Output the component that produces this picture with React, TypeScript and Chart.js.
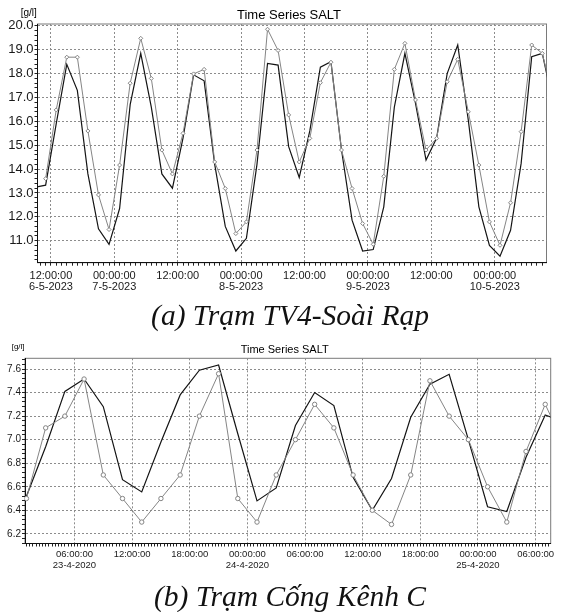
import React, { useEffect, useRef } from "react";
import { Chart, registerables } from "chart.js";
Chart.register(...registerables);

// ---------- Chart (a): Trạm TV4-Soài Rạp (hours since 00:00 6-5-2023) ----------
const A_HOURS = [9, 11, 13, 15, 17, 19, 21, 23, 25, 27, 29, 31, 33, 35, 37, 39, 41, 43, 45, 47, 49, 51, 53, 55, 57, 59, 61, 63, 65, 67, 69, 71, 73, 75, 77, 79, 81, 83, 85, 87, 89, 91, 93, 95, 97, 99, 101, 103, 105, 107];
const A_BLACK = [13.24, 13.33, 15.9, 18.39, 17.3, 13.8, 11.5, 10.85, 12.35, 16.7, 18.85, 16.6, 13.8, 13.2, 15.3, 17.95, 17.7, 14.2, 11.6, 10.57, 11.1, 14.2, 18.43, 18.36, 14.94, 13.65, 15.6, 18.27, 18.5, 14.8, 11.86, 10.57, 10.63, 12.42, 16.6, 18.85, 16.76, 14.38, 15.3, 18.0, 19.2, 16.05, 12.42, 10.8, 10.35, 11.44, 14.24, 18.71, 18.85, 16.8];
const A_GREY = [null, 13.6, 16.48, 18.69, 18.69, 15.6, 12.92, 11.47, 14.17, 17.6, 19.48, 17.8, 14.8, 13.8, 15.5, 17.99, 18.18, 14.3, 13.19, 11.3, 11.79, 14.8, 19.86, 18.97, 16.27, 14.3, 15.29, 17.62, 18.48, 14.8, 13.19, 11.72, 10.85, 13.7, 18.18, 19.27, 16.9, 14.8, 15.29, 17.66, 18.6, 16.4, 14.17, 11.79, 10.81, 12.59, 15.57, 19.2, 18.85, 17.0];
const A_TICK_HOURS = [12, 24, 36, 48, 60, 72, 84, 96];
const A_TICK_LABELS = [
  ["12:00:00", "6-5-2023"],
  ["00:00:00", "7-5-2023"],
  ["12:00:00"],
  ["00:00:00", "8-5-2023"],
  ["12:00:00"],
  ["00:00:00", "9-5-2023"],
  ["12:00:00"],
  ["00:00:00", "10-5-2023"],
];

// ---------- Chart (b): Trạm Cống Kênh C (hours since 00:00 23-4-2020) ----------
const B_HOURS = [1, 3, 5, 7, 9, 11, 13, 15, 17, 19, 21, 23, 25, 27, 29, 31, 33, 35, 37, 39, 41, 43, 45, 47, 49, 51, 53, 55, 57];
const B_BLACK = [6.52, 6.94, 7.41, 7.515, 7.28, 6.66, 6.556, 6.98, 7.38, 7.59, 7.634, 7.05, 6.48, 6.59, 7.12, 7.4, 7.29, 6.68, 6.4, 6.67, 7.19, 7.47, 7.555, 7.0, 6.43, 6.39, 6.85, 7.21, 7.15];
const B_GREY = [6.5, 7.1, 7.2, 7.515, 6.7, 6.5, 6.3, 6.5, 6.7, 7.2, 7.56, 6.5, 6.3, 6.7, 7.0, 7.3, 7.1, 6.7, 6.4, 6.28, 6.7, 7.5, 7.2, 7.0, 6.6, 6.3, 6.9, 7.3, 6.95];
const B_TICK_HOURS = [6, 12, 18, 24, 30, 36, 42, 48, 54];
const B_TICK_LABELS = [
  ["06:00:00", "23-4-2020"],
  ["12:00:00"],
  ["18:00:00"],
  ["00:00:00", "24-4-2020"],
  ["06:00:00"],
  ["12:00:00"],
  ["18:00:00"],
  ["00:00:00", "25-4-2020"],
  ["06:00:00"],
];

const FONT = "'Liberation Sans', Arial, sans-serif";

function stepTicks(min: number, max: number, step: number) {
  const out: { value: number }[] = [];
  const s = Math.ceil(min / step - 1e-9);
  const e = Math.floor(max / step + 1e-9);
  for (let i = s; i <= e; i++) out.push({ value: +(i * step).toFixed(6) });
  return out;
}
const isMult = (v: number, step: number) => Math.abs(v / step - Math.round(v / step)) < 1e-6;

const boxPlugin = {
  id: "plotBox",
  beforeDraw(chart: any) {
    const { ctx, chartArea: a } = chart;
    ctx.save();
    ctx.fillStyle = "#ffffff";
    ctx.fillRect(0, 0, chart.width, chart.height);
    ctx.strokeStyle = "#7a7a7a";
    ctx.lineWidth = 1;
    ctx.strokeRect(a.left, a.top, a.right - a.left, a.bottom - a.top);
    ctx.restore();
  },
};

type Cfg = {
  hours: number[];
  black: (number | null)[];
  grey: (number | null)[];
  xMin: number; xMax: number; xMinor: number;
  tickHours: number[]; tickLabels: string[][];
  yMin: number; yMax: number; yMajor: number; yMinor: number;
  pad: { left: number; right: number; top: number; bottom: number };
  yWidth: number; xHeight: number;
  yFont: number; xFont: number; xLine: number; xPad: number;
  pointStyle: string; pointRadius: number;
};

function makeConfig(c: Cfg): any {
  return {
    type: "line",
    data: {
      datasets: [
        {
          label: "grey",
          data: c.hours.map((h, i) => ({ x: h, y: c.grey[i] })),
          borderColor: "#858585",
          borderWidth: 1,
          pointStyle: c.pointStyle,
          pointRadius: c.pointRadius,
          pointBorderColor: "#858585",
          pointBackgroundColor: "#ffffff",
          pointBorderWidth: 1,
          tension: 0,
          spanGaps: false,
        },
        {
          label: "black",
          data: c.hours.map((h, i) => ({ x: h, y: c.black[i] })),
          borderColor: "#141414",
          borderWidth: 1.2,
          pointRadius: 0,
          tension: 0,
        },
      ],
    },
    options: {
      responsive: false,
      animation: false,
      events: [],
      layout: { padding: c.pad },
      plugins: { legend: { display: false }, title: { display: false }, tooltip: { enabled: false } },
      scales: {
        x: {
          type: "linear",
          min: c.xMin,
          max: c.xMax,
          afterBuildTicks: (s: any) => { s.ticks = stepTicks(c.xMin, c.xMax, c.xMinor); },
          afterFit: (s: any) => { s.height = c.xHeight; },
          ticks: {
            autoSkip: false,
            maxRotation: 0,
            minRotation: 0,
            padding: c.xPad,
            color: "#1a1a1a",
            font: { family: FONT, size: c.xFont, lineHeight: c.xLine },
            callback: (v: number) => {
              const idx = c.tickHours.findIndex((h) => Math.abs(h - v) < 1e-6);
              return idx >= 0 ? c.tickLabels[idx] : "";
            },
          },
          grid: {
            color: (ctx: any) => {
              const v = ctx.tick ? ctx.tick.value : NaN;
              return c.tickHours.some((h) => Math.abs(h - v) < 1e-6) ? "#8c8c8c" : "rgba(0,0,0,0)";
            },
            lineWidth: 1,
            tickColor: "#222",
            tickLength: 3,
          },
          border: { display: true, color: "#111", width: 1, dash: [2, 2] },
        },
        y: {
          type: "linear",
          min: c.yMin,
          max: c.yMax,
          afterBuildTicks: (s: any) => { s.ticks = stepTicks(c.yMin, c.yMax, c.yMinor); },
          afterFit: (s: any) => { s.width = c.yWidth; },
          ticks: {
            autoSkip: false,
            padding: 1,
            color: "#1a1a1a",
            font: { family: FONT, size: c.yFont },
            callback: (v: number) => (isMult(v, c.yMajor) ? v.toFixed(1) : ""),
          },
          grid: {
            color: (ctx: any) => {
              const v = ctx.tick ? ctx.tick.value : NaN;
              return isMult(v, c.yMajor) ? "#8c8c8c" : "rgba(0,0,0,0)";
            },
            lineWidth: 1,
            tickColor: "#222",
            tickLength: 3,
          },
          border: { display: true, color: "#111", width: 1, dash: [2, 2] },
        },
      },
    },
    plugins: [boxPlugin],
  };
}

const CFG_A: Cfg = {
  hours: A_HOURS, black: A_BLACK, grey: A_GREY,
  xMin: 9.46, xMax: 105.8, xMinor: 1,
  tickHours: A_TICK_HOURS, tickLabels: A_TICK_LABELS,
  yMin: 10.08, yMax: 20.08, yMajor: 1, yMinor: 0.2,
  pad: { left: 0, right: 20.5, top: 24, bottom: 0 },
  yWidth: 37.5, xHeight: 37.3,
  yFont: 13, xFont: 11, xLine: 1.0, xPad: 5,
  pointStyle: "rectRot", pointRadius: 2,
};

const CFG_B: Cfg = {
  hours: B_HOURS, black: B_BLACK, grey: B_GREY,
  xMin: 0.85, xMax: 55.57, xMinor: 1 / 3,
  tickHours: B_TICK_HOURS, tickLabels: B_TICK_LABELS,
  yMin: 6.118, yMax: 7.691, yMajor: 0.2, yMinor: 0.04,
  pad: { left: 0, right: 16.3, top: 18.3, bottom: 0 },
  yWidth: 25, xHeight: 36.5,
  yFont: 10, xFont: 9.5, xLine: 1.15, xPad: 2,
  pointStyle: "circle", pointRadius: 2.2,
};

function SaltChart({ cfg, top, height }: { cfg: Cfg; top: number; height: number }) {
  const ref = useRef<HTMLCanvasElement | null>(null);
  useEffect(() => {
    if (!ref.current) return;
    const chart = new Chart(ref.current, makeConfig(cfg));
    return () => chart.destroy();
  }, [cfg]);
  return (
    <canvas
      ref={ref}
      width={567}
      height={height}
      style={{ position: "absolute", left: 0, top, width: 567, height }}
    />
  );
}

const txt = (left: number, top: number, size: number, extra: any = {}): any => ({
  position: "absolute",
  left,
  top,
  fontFamily: FONT,
  fontSize: size,
  lineHeight: 1,
  whiteSpace: "nowrap",
  color: "#000",
  ...extra,
});

const caption = (top: number): any => ({
  position: "absolute",
  left: 0,
  top,
  width: 580,
  textAlign: "center",
  fontFamily: "'Liberation Serif', 'Times New Roman', serif",
  fontStyle: "italic",
  fontSize: 29.5,
  lineHeight: 1,
  whiteSpace: "nowrap",
  color: "#111",
});

export default function App() {
  return (
    <div style={{ position: "fixed", left: 0, top: 0, width: 567, height: 612, overflow: "hidden", background: "#fff" }}>
      <SaltChart cfg={CFG_A} top={0} height={300} />
      <div style={txt(20.7, 8, 10)}>[g/l]</div>
      <div style={txt(237, 8.3, 13)}>Time Series SALT</div>
      <div style={caption(301.3)}>(a) Trạm TV4-Soài Rạp</div>

      <SaltChart cfg={CFG_B} top={340} height={240} />
      <div style={txt(11.7, 343.2, 8)}>[g/l]</div>
      <div style={txt(240.7, 344, 11)}>Time Series SALT</div>
      <div style={caption(582.3)}>(b) Trạm Cống Kênh C</div>
    </div>
  );
}
